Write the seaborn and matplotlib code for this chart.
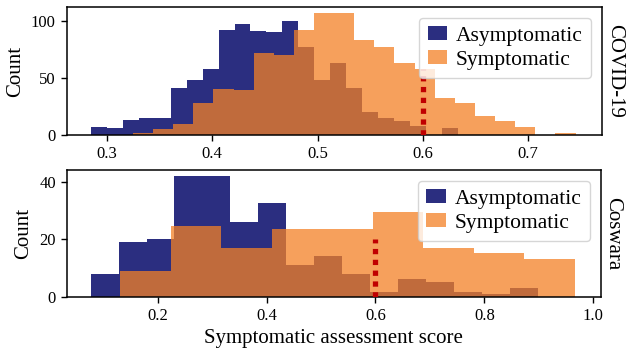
import numpy as np
import pandas as pd
import matplotlib
matplotlib.use("Agg")
import matplotlib.pyplot as plt
import seaborn as sns

# Counts per bin
# top panel: COVID-19
covid_asym_counts = [7, 6, 13, 15, 15, 41, 48, 58, 92, 97, 91, 90, 100,
                     77, 48, 63, 41, 20, 15, 12, 8, 0, 6]
covid_asym_range = (0.2848, 0.6332)
covid_sym_counts = [2, 5, 10, 28, 40, 39, 72, 70, 92, 107, 107, 83, 77,
                    63, 58, 32, 28, 17, 12, 7, 0, 1.5]
covid_sym_range = (0.3247, 0.7449)
covid_threshold = 0.6
covid_threshold_height = 58

# bottom panel: Coswara
coswara_asym_counts = [8, 19, 20, 42, 42, 26, 32.5, 11, 14, 8, 1.7, 6, 5, 1.7, 0.9, 3]
coswara_asym_range = (0.0771, 0.8983)
coswara_sym_counts = [9, 24.5, 17, 23.5, 23.5, 29.4, 17, 15.2, 13]
coswara_sym_range = (0.131, 0.966)
coswara_threshold = 0.6
coswara_threshold_height = 20

dataset_names = ["COVID-19", "Coswara"]
group_labels = ["Asymptomatic", "Symptomatic"]

ASYM_COLOR = "#2B2E80"
SYM_COLOR = "#F38026"

sns.set_style("ticks", {"axes.edgecolor": "black", "xtick.color": "black",
                        "ytick.color": "black"})
plt.rcParams["font.family"] = ["Liberation Serif", "DejaVu Serif"]
plt.rcParams["text.color"] = "black"
plt.rcParams["axes.labelcolor"] = "black"


def draw_hist(ax, counts, rng, color, alpha, label):
    edges = np.linspace(rng[0], rng[1], len(counts) + 1)
    df = pd.DataFrame({"score": (edges[:-1] + edges[1:]) / 2,
                       "count": np.asarray(counts, dtype=float)})
    # bins as a plain list (seaborn compares bins with "auto")
    sns.histplot(data=df, x="score", weights="count", bins=edges.tolist(), ax=ax,
                 color=color, alpha=alpha, linewidth=0, edgecolor="none",
                 label=label)


fig, axes = plt.subplots(2, 1, figsize=(6.31, 3.52), dpi=100)
axes[0].set_position([0.106, 0.6165, 0.848, 0.3635])
axes[1].set_position([0.106, 0.157, 0.846, 0.360])

panels = [
    (covid_asym_counts, covid_asym_range, covid_sym_counts, covid_sym_range,
     covid_threshold, covid_threshold_height, (0.262, 0.770), (0, 112), [0, 50, 100]),
    (coswara_asym_counts, coswara_asym_range, coswara_sym_counts, coswara_sym_range,
     coswara_threshold, coswara_threshold_height, (0.0336, 1.0134), (0, 44), [0, 20, 40]),
]

for ax, name, p in zip(axes, dataset_names, panels):
    a_counts, a_rng, s_counts, s_rng, thr, thr_h, xlim, ylim, yticks = p
    draw_hist(ax, a_counts, a_rng, ASYM_COLOR, 1.0, group_labels[0])
    draw_hist(ax, s_counts, s_rng, SYM_COLOR, 0.75, group_labels[1])
    ax.plot([thr, thr], [0, thr_h], color="#C00000", lw=3.8,
            ls=(0, (1, 1.05)), zorder=3)
    ax.set_xlim(*xlim)
    ax.set_ylim(*ylim)
    ax.set_yticks(yticks)
    ax.set_ylabel("Count", fontsize=15, labelpad=4)
    ax.set_xlabel("")
    ax.tick_params(labelsize=12, length=4.5, width=1)
    for sp in ax.spines.values():
        sp.set_linewidth(1.1)
    ax.legend(loc="upper right", fontsize=15.5, handlelength=0.9, handleheight=0.6,
              handletextpad=0.4, labelspacing=0.2, borderpad=0.4)
    ax.text(1.005, 0.5, name, transform=ax.transAxes, rotation=270,
            ha="left", va="center", fontsize=15)

axes[0].set_xticks([0.3, 0.4, 0.5, 0.6, 0.7])
axes[1].set_xticks([0.2, 0.4, 0.6, 0.8, 1.0])
axes[1].set_xlabel("Symptomatic assessment score", fontsize=15, labelpad=4)

fig.savefig("out.png", dpi=100)
